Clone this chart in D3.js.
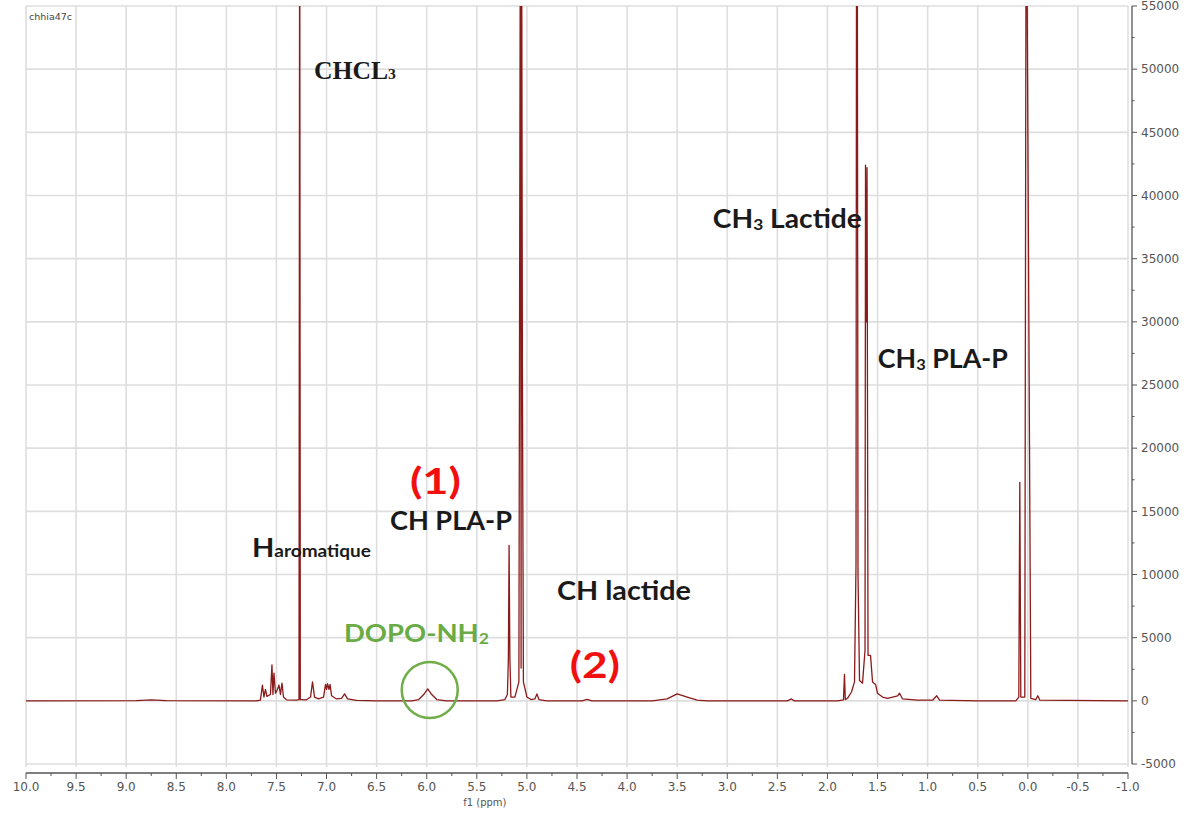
<!DOCTYPE html>
<html>
<head>
<meta charset="utf-8">
<script src="https://cdn.jsdelivr.net/npm/d3@7"></script>
<style>
    body { margin: 0; background: #fff; }
    #chart { width: 1198px; height: 814px; }
    .tick-label { font-family: "DejaVu Sans", sans-serif; font-size: 12px; fill: #555; }
    .note { font-family: Lato, "Open Sans", sans-serif; font-weight: bold; fill: #1a1a1a; }
</style>
</head>
<body>
<div id="chart"></div>
<script>

// chemical shift (ppm) of each spectrum point
const shiftPpm = [
    10.0, 8.9, 8.75, 8.6, 7.7,
    7.66, 7.64, 7.625, 7.61, 7.595, 7.56, 7.545, 7.535, 7.525, 7.51, 7.49, 7.475, 7.46, 7.445, 7.43, 7.40,
    7.30, 7.275, 7.268, 7.262, 7.255,
    7.20, 7.16, 7.14, 7.12, 7.08, 7.03, 7.01, 7.0, 6.99, 6.975, 6.965, 6.95, 6.90, 6.85, 6.82, 6.79, 6.7, 6.5,
    6.15, 6.08, 6.03, 5.99, 5.95, 5.90, 5.8,
    5.3, 5.22, 5.195, 5.185, 5.178, 5.17, 5.16, 5.12, 5.08, 5.064, 5.058, 5.054, 5.045, 5.035, 5.0, 4.96, 4.92, 4.9, 4.88, 4.8,
    4.45, 4.40, 4.35,
    3.75, 3.6, 3.5, 3.4, 3.3, 3.2,
    2.4, 2.36, 2.33,
    1.90, 1.84, 1.83, 1.822, 1.80, 1.76, 1.73, 1.715, 1.709, 1.703, 1.695, 1.68, 1.65, 1.625, 1.62, 1.612, 1.605, 1.595, 1.57, 1.55, 1.52, 1.50, 1.45, 1.4, 1.3, 1.28, 1.25, 1.1,
    0.95, 0.91, 0.88, 0.5,
    0.12, 0.09, 0.08, 0.07, 0.03, 0.016, -0.03, -0.08, -0.1, -0.12, -1.0
];

// intensity at each of those shifts
const intensity = [
    0, 20, 80, 20, 0,
    50, 1250, 300, 900, 350, 500, 2850, 500, 2200, 600, 900, 1250, 500, 1400, 300, 80,
    50, 100, 70000, 100, 100,
    80, 300, 1500, 300, 150, 300, 1300, 900, 1350, 900, 1300, 400, 150, 200, 550, 150, 30, 0,
    0, 100, 500, 950, 500, 100, 0,
    0, 100, 500, 3300, 12300, 3400, 300, 300, 1500, 70000, 2600, 70000, 26000, 1500, 300, 100, 150, 550, 100, 0,
    0, 120, 0,
    0, 150, 550, 300, 50, 0,
    0, 150, 0,
    0, 80, 2100, 100, 200, 700, 1500, 10800, 70000, 70000, 10000, 1600, 1400, 4000, 42400, 30000, 42200, 3600, 3600, 1500, 1300, 600, 300, 200, 400, 600, 150, 50,
    50, 400, 50, 0,
    0, 300, 17300, 300, 300, 70000, 200, 100, 400, 50, 0
];

// axis ticks
const xTicks = [10.0, 9.5, 9.0, 8.5, 8.0, 7.5, 7.0, 6.5, 6.0, 5.5, 5.0, 4.5, 4.0, 3.5, 3.0, 2.5, 2.0, 1.5, 1.0, 0.5, 0.0, -0.5, -1.0];
const yTicks = [-5000, 0, 5000, 10000, 15000, 20000, 25000, 30000, 35000, 40000, 45000, 50000, 55000];

class SpectrumChart {

    constructor(parentElement) {
        this.parentElement = parentElement;
        this.lineColor = '#8b1a1a';
        this.displayData = shiftPpm.map((p, i) => ({ppm: p, value: intensity[i]}));
        this.initVis();
    }

    initVis() {
        let vis = this;

        vis.width = 1198;
        vis.height = 814;

        vis.svg = d3.select("#" + vis.parentElement).append("svg")
            .attr("width", vis.width)
            .attr("height", vis.height);

        // plot area bounds
        vis.left = 26;
        vis.right = 1128;
        vis.top = 6;
        vis.bottom = 764;

        vis.x = d3.scaleLinear().domain([10, -1]).range([vis.left, vis.right]);
        vis.y = d3.scaleLinear().domain([-5000, 55000]).range([vis.bottom, vis.top]);

        // grid
        vis.svg.append("g").selectAll("line.vgrid")
            .data(xTicks)
            .enter().append("line")
            .attr("x1", d => vis.x(d)).attr("x2", d => vis.x(d))
            .attr("y1", vis.top).attr("y2", vis.bottom + 3)
            .attr("stroke", "#dedede").attr("stroke-width", 1.6);

        vis.svg.append("g").selectAll("line.hgrid")
            .data(yTicks)
            .enter().append("line")
            .attr("x1", vis.left).attr("x2", vis.right)
            .attr("y1", d => vis.y(d)).attr("y2", d => vis.y(d))
            .attr("stroke", "#dedede").attr("stroke-width", 1.6);

        // x axis (ppm, reversed)
        let xMinor = d3.range(-1, 10.001, 0.25).filter(v => Math.abs(v * 2 - Math.round(v * 2)) > 0.01);
        let xAxis = vis.svg.append("g").attr("transform", `translate(0, ${vis.bottom + 9})`);
        xAxis.append("line")
            .attr("x1", vis.left).attr("x2", vis.right)
            .attr("stroke", "#555").attr("stroke-width", 1.3);
        xAxis.selectAll("line.major").data(xTicks).enter().append("line")
            .attr("x1", d => vis.x(d)).attr("x2", d => vis.x(d))
            .attr("y1", 0).attr("y2", 6)
            .attr("stroke", "#555");
        xAxis.selectAll("line.minor").data(xMinor).enter().append("line")
            .attr("x1", d => vis.x(d)).attr("x2", d => vis.x(d))
            .attr("y1", 0).attr("y2", 3)
            .attr("stroke", "#555");
        xAxis.selectAll("text").data(xTicks).enter().append("text")
            .attr("class", "tick-label")
            .attr("x", d => vis.x(d))
            .attr("y", 18)
            .attr("text-anchor", "middle")
            .text(d => d3.format(".1f")(d).replace("−", "-"));
        vis.svg.append("text")
            .attr("class", "tick-label")
            .style("font-size", "10px")
            .attr("x", vis.x(5.42)).attr("y", 806)
            .attr("text-anchor", "middle")
            .text("f1 (ppm)");

        // y axis on the right
        let yMinor = d3.range(-2500, 55000, 5000);
        let yAxis = vis.svg.append("g").attr("transform", `translate(${vis.right + 4}, 0)`);
        yAxis.append("line")
            .attr("y1", vis.top).attr("y2", vis.bottom)
            .attr("stroke", "#555").attr("stroke-width", 1.3);
        yAxis.selectAll("line.major").data(yTicks).enter().append("line")
            .attr("y1", d => vis.y(d)).attr("y2", d => vis.y(d))
            .attr("x1", 0).attr("x2", 5)
            .attr("stroke", "#555");
        yAxis.selectAll("line.minor").data(yMinor).enter().append("line")
            .attr("y1", d => vis.y(d)).attr("y2", d => vis.y(d))
            .attr("x1", 0).attr("x2", 2.5)
            .attr("stroke", "#555");
        yAxis.selectAll("text").data(yTicks).enter().append("text")
            .attr("class", "tick-label")
            .attr("x", 9)
            .attr("y", d => vis.y(d))
            .attr("dy", "0.35em")
            .text(d => d3.format("d")(d).replace("−", "-"));

        // sample id
        vis.svg.append("text")
            .attr("x", vis.left + 3).attr("y", 20)
            .style("font-family", "DejaVu Sans, sans-serif")
            .style("font-size", "9.5px")
            .style("fill", "#444")
            .text("chhia47c");

        // spectrum line, clipped to the plot area
        vis.svg.append("clipPath").attr("id", "plotClip")
            .append("rect")
            .attr("x", vis.left).attr("y", vis.top)
            .attr("width", vis.right - vis.left).attr("height", vis.bottom - vis.top);

        vis.line = d3.line()
            .x(d => vis.x(d.ppm))
            .y(d => vis.y(d.value));

        vis.svg.append("path")
            .datum(vis.displayData)
            .attr("clip-path", "url(#plotClip)")
            .attr("d", vis.line)
            .attr("fill", "none")
            .attr("stroke", vis.lineColor)
            .attr("stroke-width", 1.3)
            .attr("stroke-linejoin", "round");

        vis.addNotes();
    }

    addNotes() {
        let vis = this;

        // helper: text with optional subscript part, stretched to the width seen in the reference
        function note(ppm, value, parts, size, width, color, family) {
            let t = vis.svg.append("text")
                .attr("class", "note")
                .attr("x", vis.x(ppm))
                .attr("y", vis.y(value))
                .attr("textLength", width)
                .attr("lengthAdjust", "spacingAndGlyphs")
                .style("font-size", size + "px");
            if (color) t.style("fill", color);
            if (family) t.style("font-family", family);
            parts.forEach(p => {
                let s = t.append("tspan").text(p.text);
                if (p.size) s.style("font-size", p.size + "px");
                if (p.dy) s.attr("dy", p.dy);
            });
            return t;
        }

        note(7.126, 49200, [{text: "CHCL"}, {text: "3", size: 15, dy: 0}], 24.5, 82, null, "Liberation Serif, serif");
        note(3.144, 37430, [{text: "CH"}, {text: "3", size: 16, dy: 2}, {text: " Lactide", size: 26, dy: -2}], 26, 149);
        note(1.497, 26350, [{text: "CH"}, {text: "3", size: 16, dy: 2}, {text: " PLA-P", size: 26, dy: -2}], 26, 130);
        note(6.168, 16370, [{text: "(1)"}], 36, 51, "#f01010");
        note(6.367, 13520, [{text: "CH PLA-P"}], 26, 122);
        note(7.745, 11390, [{text: "H"}, {text: "aromatique", size: 17}], 26, 119);
        note(4.70, 7980, [{text: "CH lactide"}], 26, 134);
        note(6.826, 4660, [{text: "DOPO-NH"}, {text: "2", size: 16, dy: 2}], 25, 145, "#6aab45");
        note(4.571, 1810, [{text: "(2)"}], 36, 50, "#f01010");

        // circle around the DOPO-NH2 signal
        vis.svg.append("circle")
            .attr("cx", vis.x(5.97))
            .attr("cy", vis.y(860))
            .attr("r", 28)
            .attr("fill", "none")
            .attr("stroke", "#70ad47")
            .attr("stroke-width", 2.5);
    }
}

let spectrum = new SpectrumChart("chart");
</script>
</body>
</html>
